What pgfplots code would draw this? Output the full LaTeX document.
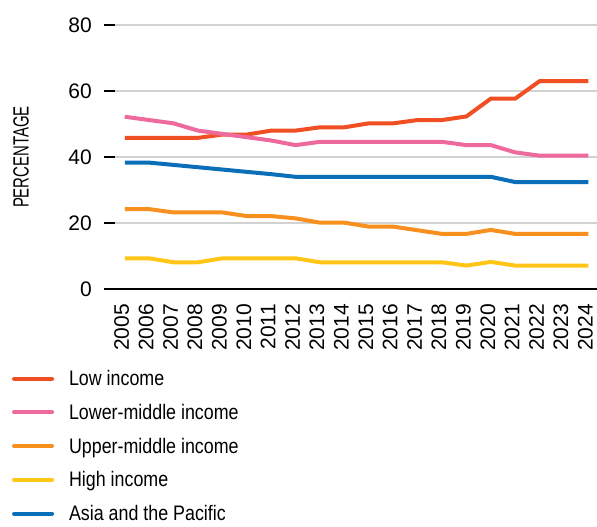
\documentclass[border=0pt]{standalone}
\usepackage{pgfplots}
\pgfplotsset{compat=1.18}
\usepackage{fontspec}
\setmainfont{Liberation Sans}
\newfontfamily\condfont[FakeStretch=0.85]{Liberation Sans}
\newfontfamily\labfont[FakeStretch=0.68]{Liberation Sans}
\definecolor{cLow}{HTML}{F04E23}
\definecolor{cLM}{HTML}{EF6A9C}
\definecolor{cUM}{HTML}{F7901E}
\definecolor{cHigh}{HTML}{FFC517}
\definecolor{cAsia}{HTML}{0A6EB8}
\pgfplotstableread{
year low lm um high asia
2005 45.8 52.2 24.2 9.3 38.3
2006 45.8 51.2 24.2 9.3 38.3
2007 45.8 50.2 23.2 8.1 37.6
2008 45.8 48.0 23.2 8.1 36.9
2009 46.8 47.0 23.2 9.3 36.2
2010 46.8 46.0 22.1 9.3 35.5
2011 48.0 45.0 22.1 9.3 34.8
2012 48.0 43.6 21.4 9.3 34.0
2013 49.0 44.6 20.1 8.1 34.0
2014 49.0 44.6 20.1 8.1 34.0
2015 50.2 44.6 18.9 8.1 34.0
2016 50.2 44.6 18.9 8.1 34.0
2017 51.2 44.6 17.8 8.1 34.0
2018 51.2 44.6 16.7 8.1 34.0
2019 52.3 43.6 16.7 7.1 34.0
2020 57.7 43.6 17.9 8.2 34.0
2021 57.7 41.4 16.7 7.1 32.4
2022 63.0 40.4 16.7 7.1 32.4
2023 63.0 40.4 16.7 7.1 32.4
2024 63.0 40.4 16.7 7.1 32.4
}\data
\begin{document}
\begin{tikzpicture}
\begin{axis}[
  scale only axis, width=482pt, height=264pt,
  xmin=2004.6, xmax=2024.35, ymin=0, ymax=80,
  axis x line*=bottom, axis y line*=left,
  x axis line style={black, line width=1.8pt, -},
  y axis line style={draw=none},
  ytick={0,20,40,60,80},
  xtick={2005,...,2024},
  x tick style={draw=none},
  y tick style={black, line width=1.5pt},
  tick align=outside, major tick length=11pt,
  ymajorgrids, major grid style={gray!35, line width=1.5pt},
  /pgf/number format/assume math mode=true,
  /pgf/number format/1000 sep={},
  ticklabel style={font=\fontsize{21}{21}\selectfont},
  xticklabel style={rotate=90, anchor=east, inner sep=2pt, xshift=-2pt, yshift=3pt},
  yticklabel style={inner sep=2pt, xshift=-10pt},
  ylabel={\labfont\fontsize{22}{22}\selectfont PERCENTAGE},
  ylabel style={at={(rel axis cs:0,0.5)}, anchor=center, yshift=94pt},
  legend style={draw=none, at={(rel axis cs:-0.214,-0.300)}, anchor=north west,
    font=\condfont\fontsize{21}{21}\selectfont, row sep=13pt, inner sep=0pt,
    /tikz/every even column/.append style={column sep=0pt}},
  legend cell align=left,
  legend image code/.code={\draw[#1, line width=4pt, line cap=round] (0pt,0pt) -- (38pt,0pt);},
  every axis plot/.append style={line width=4pt, line join=round},
  clip=false,
]
\coordinate (O) at (rel axis cs:0,0);
\addplot[cLow] table[x=year,y=low]{\data};
\addlegendentry{\hspace{13pt}Low income}
\addplot[cLM] table[x=year,y=lm]{\data};
\addlegendentry{\hspace{13pt}Lower-middle income}
\addplot[cUM] table[x=year,y=um]{\data};
\addlegendentry{\hspace{13pt}Upper-middle income}
\addplot[cHigh] table[x=year,y=high]{\data};
\addlegendentry{\hspace{13pt}High income}
\addplot[cAsia] table[x=year,y=asia]{\data};
\addlegendentry{\hspace{13pt}Asia and the Pacific}
\end{axis}
\pgfresetboundingbox
\path ([shift={(-115pt,-238pt)}]O) rectangle ([shift={(482pt,289pt)}]O);
\end{tikzpicture}
\end{document}
